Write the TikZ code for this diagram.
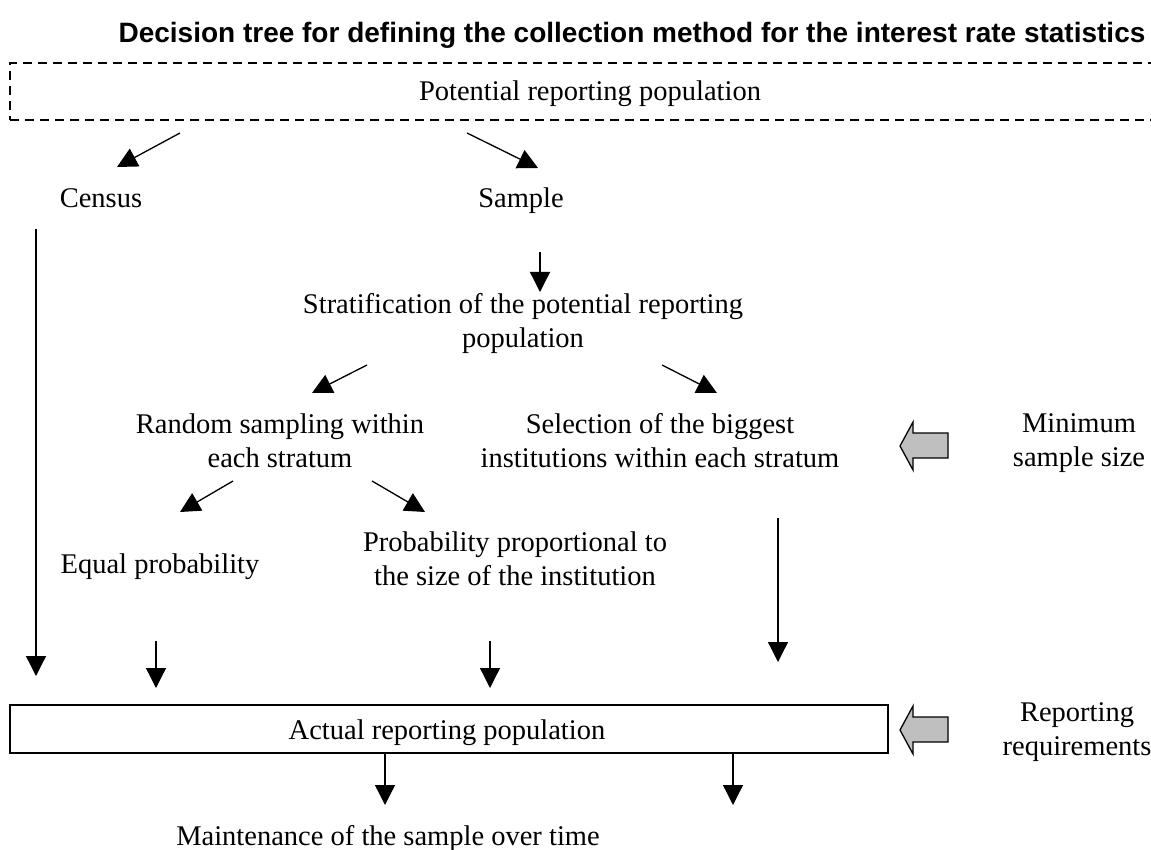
\documentclass[tikz,border=0pt]{standalone}
\usepackage{fontspec}
\setmainfont{Liberation Serif}
\newfontfamily\titlefont{Liberation Sans}
\usetikzlibrary{arrows.meta}
\begin{document}
\begin{tikzpicture}[x=1pt,y=-1pt,
  txt/.style={font=\fontsize{28.5}{34}\selectfont, inner sep=0pt, align=center},
  arr/.style={-{Triangle[length=20pt,width=20pt]}, line width=1.3pt},
  blockarrow/.style={fill=black!25, draw=black, line width=1.3pt, line join=miter},
  boxnode/.style={draw, line width=1.3pt, inner sep=0pt},
]
\useasboundingbox (0,0) rectangle (1151,850);
\clip (0,0) rectangle (1151,850);
\fill[white] (0,0) rectangle (1151,850);

\node[font=\titlefont\bfseries\fontsize{28}{32}\selectfont, anchor=base, inner sep=0pt] (title) at (632,43)
  {Decision tree for defining the collection method for the interest rate statistics};

\node[boxnode, dash pattern=on 9pt off 6pt, minimum width=1160pt, minimum height=57pt] (pot) at (590,91.5) {};
\node[txt, anchor=base] (potlbl) at (pot.center |- 0,101) {Potential reporting population};

\node[txt, anchor=base] (census) at (101,208) {Census};
\node[txt, anchor=base] (sample) at (521,208) {Sample};
\node[txt, anchor=base] (strat) at (523,347) {Stratification of the potential reporting\\population};
\node[txt, anchor=base] (random) at (280,467) {Random sampling within\\each stratum};
\node[txt, anchor=base] (select) at (660,467) {Selection of the biggest\\institutions within each stratum};
\node[txt, anchor=base] (minimum) at (1079,466) {Minimum\\sample size};
\node[txt, anchor=base] (equal) at (160,573) {Equal probability};
\node[txt, anchor=base] (prop) at (515,585) {Probability proportional to\\the size of the institution};
\node[boxnode, minimum width=878pt, minimum height=48pt] (actual) at (449,729) {};
\node[txt, anchor=base] (actlbl) at (447,739) {Actual reporting population};
\node[txt, anchor=base] (reporting) at (1077,755) {Reporting\\requirements};
\node[txt, anchor=base] (maint) at (388,845) {Maintenance of the sample over time};

% arrow end points
\coordinate (p1s) at (180,133); \coordinate (p1e) at (117,167);
\coordinate (p2s) at (467,133); \coordinate (p2e) at (538,168);
\coordinate (c1s) at (36,229);  \coordinate (c1e) at (36,676);
\coordinate (s1s) at (540,252); \coordinate (s1e) at (540,292);
\coordinate (t1s) at (367,365); \coordinate (t1e) at (312,393);
\coordinate (t2s) at (662,365); \coordinate (t2e) at (717,393);
\coordinate (r1s) at (233,481); \coordinate (r1e) at (180,512);
\coordinate (r2s) at (372,481); \coordinate (r2e) at (425,512);
\coordinate (l1s) at (778,518); \coordinate (l1e) at (778,662);
\coordinate (e1s) at (156,641); \coordinate (e1e) at (156,688);
\coordinate (q1s) at (490,641); \coordinate (q1e) at (490,688);
\coordinate (m1e) at (385,805); \coordinate (m2e) at (733,805);

\draw[arr] (p1s) -- (p1e);
\draw[arr] (p2s) -- (p2e);
\draw[arr] (c1s) -- (c1e);
\draw[arr] (s1s) -- (s1e);
\draw[arr] (t1s) -- (t1e);
\draw[arr] (t2s) -- (t2e);
\draw[arr] (r1s) -- (r1e);
\draw[arr] (r2s) -- (r2e);
\draw[arr] (l1s) -- (l1e);
\draw[arr] (e1s) -- (e1e);
\draw[arr] (q1s) -- (q1e);
\draw[arr] (actual.south -| m1e) -- (m1e);
\draw[arr] (actual.south -| m2e) -- (m2e);

% block arrows
\coordinate (ba1) at (900,446);
\coordinate (ba2) at (900,730);
\draw[blockarrow] (ba1) -- ++(13,-24) -- ++(0,11) -- ++(35,0) -- ++(0,25) -- ++(-35,0) -- ++(0,12) -- cycle;
\draw[blockarrow] (ba2) -- ++(13,-24) -- ++(0,11) -- ++(35,0) -- ++(0,25) -- ++(-35,0) -- ++(0,12) -- cycle;
\end{tikzpicture}
\end{document}
